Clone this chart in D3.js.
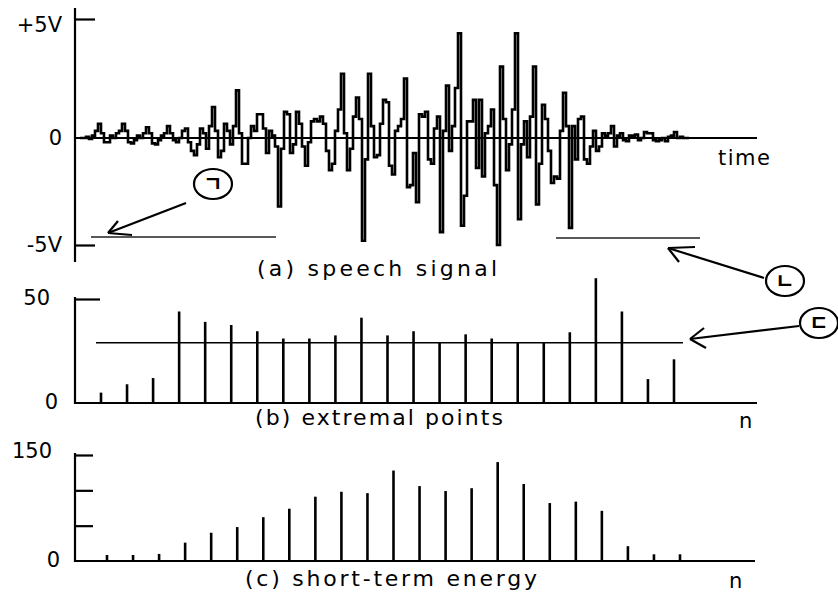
<!DOCTYPE html>
<html>
<head>
<meta charset="utf-8">
<title>Speech signal, extremal points, short-term energy</title>
<script src="https://d3js.org/d3.v7.min.js"></script>
<style>
  body { margin: 0; background: #fff; }
  svg text { font-family: "DejaVu Sans", sans-serif; fill: #000; }
  .kor { font-family: "Noto Sans CJK KR", sans-serif; }
</style>
</head>
<body>
<svg id="chart" width="838" height="592"></svg>
<script>
// ---- data ----
// (a) speech signal, volts, one value per sample (sample-and-hold)
var signal = [
  0, 0, 0.05, -0.05, 0.1, 0.3, 0.6, 0.2, -0.2, -0.2,
  0.1, 0, 0.2, 0.3, 0.6, 0.3, -0.2, -0.25, -0.1, 0.1,
  0, 0.2, 0.45, 0.2, -0.25, -0.3, -0.1, 0.1, 0.2, 0.5,
  0.2, -0.1, -0.2, 0, 0.3, 0.4, -0.2, -0.6, -0.8, -0.3,
  0.4, 0.2, -0.5, 0.5, 1.3, 0.3, -0.9, -0.6, 0.6, 0.3,
  -0.3, 0.5, 2.0, 0.2, -1.2, -1.2, 0, 0.5, 0.3, 1.0,
  1.0, 0.4, -0.7, 0.3, 0.1, -0.4, -3.2, -0.5, 1.1, 1.0,
  -0.7, -0.3, 1.1, 0.6, -0.4, -1.3, -0.2, 0.7, 0.8, 0.7,
  0.9, 0.6, -0.6, -1.5, -1.2, 0.3, 1.2, 2.7, 0.2, -1.5,
  -0.5, 0.9, 1.7, 0.8, -4.8, -1.0, 2.7, 0.5, -0.9, -0.8,
  0.6, 1.6, 1.5, -1.3, -1.7, 0.3, 0.5, 0.8, 2.5, -2.3,
  -2.2, -0.7, -3.0, 1.0, 0.9, 1.1, -1.0, -1.2, 0.4, 0.9,
  -4.4, 0.3, 2.2, -0.6, 0.5, 2.1, 4.4, -4.1, -2.7, 0.7,
  0.7, 1.6, -1.4, 1.6, -1.8, 0.2, 0.5, 1.2, -2.2, -5.0,
  3.0, 0.8, -1.5, -0.3, 1.2, 4.4, -3.8, -0.3, 0.7, -0.9,
  0.9, 3.0, -3.1, -1.2, 1.4, 0.8, -0.6, -2.1, -1.8, -1.9,
  0.3, 1.9, 0.5, -4.2, 0.5, -1.0, 0.8, 0.9, -1.0, -1.2,
  -0.4, 0.3, -0.6, -0.4, 0.2, 0.1, 0.2, 0.5, -0.4, 0.1,
  0.2, -0.1, -0.15, 0.1, 0.1, 0.15, -0.1, 0, 0.25, 0.2,
  0.2, -0.1, -0.15, -0.1, 0, -0.15, 0.05, 0.1, 0.25, 0,
  0.05, 0, 0
];
var voltTicks = [5, 0, -5];
var voltLabels = ["+5V", "0", "-5V"];

// (b) number of extremal points per frame, and the threshold line
var extremal = [5, 9, 12, 44, 39, 37.5, 34.5, 31, 31, 32.5,
                41, 32.5, 34.5, 29, 33, 31, 29, 29, 34, 60,
                44, 11.5, 21];
var extremalThreshold = 29;
var extremalTicks = [50];

// (c) short-term energy per frame
var energy = [8.5, 8.5, 10, 26, 40, 48, 62, 74, 91, 98,
              96, 128, 106, 99, 103, 140, 109, 82, 84, 71,
              21, 9.5, 9.5];
var energyTicks = [150, 100, 50];

var svg = d3.select("#chart");
svg.append("rect").attr("width", 838).attr("height", 592).attr("fill", "#fff");

var axisX = 75;
var fs = 21;

// ---------------- (a) speech signal ----------------
var xSig = d3.scaleLinear().domain([0, signal.length]).range([80, 80 + 3 * signal.length]);
var ySig = d3.scaleLinear().domain([-5, 0, 5]).range([245, 138, 19]);

var gA = svg.append("g");
gA.append("line").attr("x1", axisX).attr("x2", axisX).attr("y1", 8).attr("y2", 262)
  .attr("stroke", "#000").attr("stroke-width", 2.2);
gA.append("g").attr("transform", "translate(" + axisX + ",0)")
  .call(d3.axisRight(ySig).tickValues([5, -5]).tickSize(20).tickSizeOuter(0).tickFormat(""))
  .call(function(g) { g.select(".domain").remove(); g.selectAll("line").attr("stroke-width", 2.2); });
gA.append("line").attr("x1", axisX).attr("x2", 757).attr("y1", ySig(0)).attr("y2", ySig(0))
  .attr("stroke", "#000").attr("stroke-width", 2);

var sigLine = d3.line()
  .x(function(d, i) { return xSig(i); })
  .y(function(d) { return ySig(d); })
  .curve(d3.curveStepAfter);
gA.append("path").datum(signal.concat([0]))
  .attr("d", sigLine).attr("fill", "none").attr("stroke", "#000")
  .attr("stroke-width", 2.6).attr("stroke-linejoin", "miter");

gA.selectAll(".vlab").data(voltTicks).enter().append("text")
  .attr("x", 62).attr("y", function(d) { return ySig(d) + (d === 5 ? 13 : 7); })
  .attr("text-anchor", "end").attr("font-size", fs)
  .text(function(d, i) { return voltLabels[i]; });

gA.append("text").attr("x", 718).attr("y", 165).attr("font-size", fs)
  .attr("textLength", 52).text("time");
gA.append("text").attr("x", 257).attr("y", 276).attr("font-size", fs + 1)
  .attr("textLength", 240).attr("lengthAdjust", "spacing").text("(a) speech signal");

// level guides under the signal
gA.append("line").attr("x1", 91).attr("x2", 276).attr("y1", 237).attr("y2", 237)
  .attr("stroke", "#222").attr("stroke-width", 1.6);
gA.append("line").attr("x1", 556).attr("x2", 700).attr("y1", 238).attr("y2", 238)
  .attr("stroke", "#222").attr("stroke-width", 1.6);

// ---------------- (b) extremal points ----------------
var xB = d3.scaleLinear().domain([0, extremal.length - 1]).range([101, 674]);
var yB = d3.scaleLinear().domain([0, 50]).range([403, 299]);

var gB = svg.append("g");
gB.append("line").attr("x1", axisX).attr("x2", axisX).attr("y1", 297).attr("y2", 404)
  .attr("stroke", "#000").attr("stroke-width", 2.2);
gB.append("g").attr("transform", "translate(" + axisX + ",0)")
  .call(d3.axisRight(yB).tickValues(extremalTicks).tickSize(25).tickSizeOuter(0).tickFormat(""))
  .call(function(g) { g.select(".domain").remove(); g.selectAll("line").attr("stroke-width", 2.2); });
gB.append("line").attr("x1", axisX).attr("x2", 757).attr("y1", yB(0)).attr("y2", yB(0))
  .attr("stroke", "#000").attr("stroke-width", 2.2);

gB.selectAll(".bar").data(extremal).enter().append("line")
  .attr("x1", function(d, i) { return xB(i); }).attr("x2", function(d, i) { return xB(i); })
  .attr("y1", yB(0)).attr("y2", function(d) { return yB(d); })
  .attr("stroke", "#000").attr("stroke-width", 2.6);

gB.append("line").attr("x1", 96).attr("x2", 683)
  .attr("y1", yB(extremalThreshold)).attr("y2", yB(extremalThreshold))
  .attr("stroke", "#000").attr("stroke-width", 1.6);

gB.append("text").attr("x", 50).attr("y", yB(50) + 6).attr("text-anchor", "end").attr("font-size", fs).text("50");
gB.append("text").attr("x", 58).attr("y", yB(0) + 6).attr("text-anchor", "end").attr("font-size", fs).text("0");
gB.append("text").attr("x", 255).attr("y", 425).attr("font-size", fs + 1)
  .attr("textLength", 248).attr("lengthAdjust", "spacing").text("(b) extremal points");
gB.append("text").attr("x", 739).attr("y", 428).attr("font-size", fs).text("n");

// ---------------- (c) short-term energy ----------------
var xC = d3.scaleLinear().domain([0, energy.length - 1]).range([107, 680]);
var yC = d3.scaleLinear().domain([0, 150]).range([561, 455]);

var gC = svg.append("g");
gC.append("line").attr("x1", axisX).attr("x2", axisX).attr("y1", 453).attr("y2", 562)
  .attr("stroke", "#000").attr("stroke-width", 2.2);
gC.append("g").attr("transform", "translate(" + axisX + ",0)")
  .call(d3.axisRight(yC).tickValues(energyTicks).tickSize(18).tickSizeOuter(0).tickFormat(""))
  .call(function(g) { g.select(".domain").remove(); g.selectAll("line").attr("stroke-width", 2.2); });
gC.append("line").attr("x1", axisX).attr("x2", 755).attr("y1", yC(0)).attr("y2", yC(0))
  .attr("stroke", "#000").attr("stroke-width", 2.2);

gC.selectAll(".bar").data(energy).enter().append("line")
  .attr("x1", function(d, i) { return xC(i); }).attr("x2", function(d, i) { return xC(i); })
  .attr("y1", yC(0)).attr("y2", function(d) { return yC(d); })
  .attr("stroke", "#000").attr("stroke-width", 2.6);

gC.append("text").attr("x", 52).attr("y", yC(150) + 3).attr("text-anchor", "end").attr("font-size", fs).text("150");
gC.append("text").attr("x", 60).attr("y", yC(0) + 6).attr("text-anchor", "end").attr("font-size", fs).text("0");
gC.append("text").attr("x", 245).attr("y", 586).attr("font-size", fs + 1)
  .attr("textLength", 292).attr("lengthAdjust", "spacing").text("(c) short-term energy");
gC.append("text").attr("x", 729).attr("y", 588).attr("font-size", fs).text("n");

// ---------------- annotations ----------------
var notes = [
  { cx: 213, cy: 184, label: "\u3131", from: [186, 203], to: [108, 233], barbs: [[132, 235], [118, 221]] },
  { cx: 785, cy: 281, label: "\u3134", from: [764, 278], to: [668, 248], barbs: [[695, 247], [679, 262]] },
  { cx: 819, cy: 323, label: "\u3137", from: [799, 326], to: [690, 339], barbs: [[704, 328], [706, 348]] }
];
var gN = svg.append("g");
notes.forEach(function(n) {
  gN.append("ellipse").attr("cx", n.cx).attr("cy", n.cy).attr("rx", 19).attr("ry", 15)
    .attr("fill", "none").attr("stroke", "#000").attr("stroke-width", 2.2);
  gN.append("text").attr("class", "kor").attr("x", n.cx).attr("y", n.cy + 7)
    .attr("text-anchor", "middle").attr("font-size", 21).attr("font-weight", "bold").text(n.label);
  gN.append("line").attr("x1", n.from[0]).attr("y1", n.from[1]).attr("x2", n.to[0]).attr("y2", n.to[1])
    .attr("stroke", "#000").attr("stroke-width", 2.2);
  n.barbs.forEach(function(b) {
    gN.append("line").attr("x1", n.to[0]).attr("y1", n.to[1]).attr("x2", b[0]).attr("y2", b[1])
      .attr("stroke", "#000").attr("stroke-width", 2.2);
  });
});
</script>
</body>
</html>
